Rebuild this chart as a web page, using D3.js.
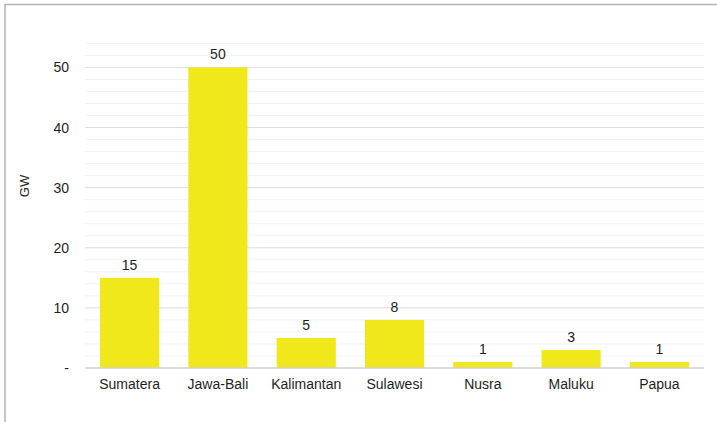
<!DOCTYPE html>
<html>
<head>
<meta charset="utf-8">
<script src="https://cdn.jsdelivr.net/npm/d3@7"></script>
<style>
  html, body { margin: 0; padding: 0; background: #fff; }
  svg { display: block; font-family: "Liberation Sans", Arial, sans-serif; }
</style>
</head>
<body>
<svg id="chart" width="717" height="422"></svg>
<script>
// Installed capacity by region (GW)
const regions = ["Sumatera", "Jawa-Bali", "Kalimantan", "Sulawesi", "Nusra", "Maluku", "Papua"];
const capacityGW = [15, 50, 5, 8, 1, 3, 1];
const majorTicks = [0, 10, 20, 30, 40, 50];
const minorTicks = [2, 4, 6, 8, 12, 14, 16, 18, 22, 24, 26, 28, 32, 34, 36, 38, 42, 44, 46, 48, 52, 54];
const yTitle = "GW";

const svg = d3.select("#chart");
const W = 717, H = 422;
const plot = { left: 85, right: 704, top: 43.4, bottom: 368 };
const fontFamily = "Liberation Sans, Arial, sans-serif";
const textColor = "#1e1e1e";

// Outer frame (top and left edges)
svg.append("path")
  .attr("d", `M5,${H} L5,4.5 L${W},4.5`)
  .attr("fill", "none")
  .attr("stroke", "#b4b4b4")
  .attr("stroke-width", 1.5);

const x = d3.scaleBand()
  .domain(regions)
  .range([plot.left, plot.right])
  .paddingInner(0.33)
  .paddingOuter(0.17);

const y = d3.scaleLinear()
  .domain([0, 54])
  .range([plot.bottom, plot.top]);

// Minor gridlines
svg.append("g").selectAll("line")
  .data(minorTicks)
  .join("line")
  .attr("x1", plot.left).attr("x2", plot.right)
  .attr("y1", d => y(d)).attr("y2", d => y(d))
  .attr("stroke", "#f2f2f2")
  .attr("stroke-width", 1);

// Major gridlines
svg.append("g").selectAll("line")
  .data(majorTicks.filter(d => d > 0))
  .join("line")
  .attr("x1", plot.left).attr("x2", plot.right)
  .attr("y1", d => y(d)).attr("y2", d => y(d))
  .attr("stroke", "#dcdcdc")
  .attr("stroke-width", 1);

// Bars
svg.append("g").selectAll("rect")
  .data(regions)
  .join("rect")
  .attr("x", d => x(d))
  .attr("width", x.bandwidth())
  .attr("y", (d, i) => y(capacityGW[i]))
  .attr("height", (d, i) => y(0) - y(capacityGW[i]))
  .attr("fill", "#f1e81b");

// Baseline
svg.append("line")
  .attr("x1", plot.left).attr("x2", plot.right)
  .attr("y1", y(0)).attr("y2", y(0))
  .attr("stroke", "#d0d0d0")
  .attr("stroke-width", 1.5);

// Value labels
svg.append("g").selectAll("text")
  .data(regions)
  .join("text")
  .attr("x", d => x(d) + x.bandwidth() / 2)
  .attr("y", (d, i) => y(capacityGW[i]) - 8)
  .attr("text-anchor", "middle")
  .attr("font-size", 14)
  .attr("font-family", fontFamily)
  .attr("fill", textColor)
  .text((d, i) => d3.format("d")(capacityGW[i]));

// Y axis labels (zero shown as a dash)
const yAxis = d3.axisLeft(y)
  .tickValues(majorTicks)
  .tickSize(0)
  .tickPadding(0)
  .tickFormat(d => d === 0 ? "-" : d3.format("d")(d));

const yg = svg.append("g")
  .attr("transform", "translate(69,0)")
  .call(yAxis);
yg.select(".domain").remove();
yg.selectAll("text")
  .attr("font-size", 14)
  .attr("font-family", fontFamily)
  .attr("fill", textColor);

// X axis labels
const xAxis = d3.axisBottom(x).tickSize(0).tickPadding(0);
const xg = svg.append("g")
  .attr("transform", `translate(0,${plot.bottom + 11})`)
  .call(xAxis);
xg.select(".domain").remove();
xg.selectAll("text")
  .attr("font-size", 14)
  .attr("font-family", fontFamily)
  .attr("fill", textColor);

// Y axis title
svg.append("text")
  .attr("transform", "translate(29,186) rotate(-90)")
  .attr("text-anchor", "middle")
  .attr("font-size", 13)
  .attr("font-family", fontFamily)
  .attr("fill", textColor)
  .text(yTitle);
</script>
</body>
</html>
